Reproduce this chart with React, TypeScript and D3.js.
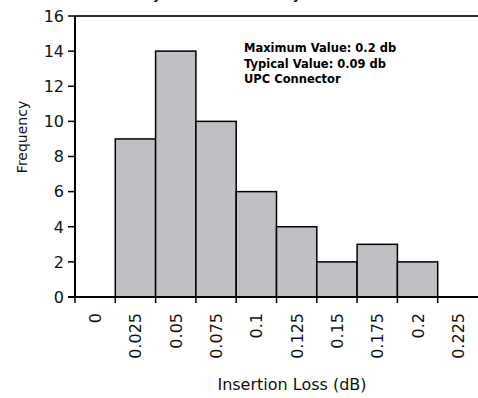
import React from "react";
import * as d3 from "d3";

const categories = ["0", "0.025", "0.05", "0.075", "0.1", "0.125", "0.15", "0.175", "0.2", "0.225"];
const frequencies = [0, 9, 14, 10, 6, 4, 2, 3, 2, 0];
const yTicks = [0, 2, 4, 6, 8, 10, 12, 14, 16];
const notes = ["Maximum Value: 0.2 db", "Typical Value: 0.09 db", "UPC Connector"];
const title = "Summary of Insertion Loss by";

const W = 478;
const H = 398;
const FONT = "'DejaVu Sans', 'Open Sans', sans-serif";

export default function App() {
  const left = 75;
  const right = 478;
  const top = 16;
  const bottom = 297;

  const x = d3.scaleBand<string>().domain(categories).range([left, right]).padding(0);
  const y = d3.scaleLinear().domain([0, 16]).range([bottom, top]);

  return (
    <svg
      width={W}
      height={H}
      style={{ position: "absolute", left: 0, top: 0, background: "#fff" }}
      fontFamily={FONT}
    >
      <text x={96} y={-1} fontSize={12.2} fontWeight="bold" fill="#000">
        {title}
      </text>

      {/* bars */}
      {categories.map((c, i) =>
        frequencies[i] > 0 ? (
          <rect
            key={c}
            x={x(c)!}
            y={y(frequencies[i])}
            width={x.bandwidth()}
            height={y(0) - y(frequencies[i])}
            fill="#bfc0c4"
            stroke="#000"
            strokeWidth={1.5}
          />
        ) : null
      )}

      {/* top frame */}
      <line x1={left} x2={W} y1={top} y2={top} stroke="#333" strokeWidth={2} />
      {/* y axis */}
      <line x1={left} x2={left} y1={top} y2={bottom} stroke="#000" strokeWidth={2} />
      {yTicks.map((t) => (
        <g key={t}>
          <line x1={68} x2={left} y1={y(t)} y2={y(t)} stroke="#000" strokeWidth={1.5} />
          <text x={64} y={y(t)} dy="0.36em" textAnchor="end" fontSize={16} fill="#111">
            {t}
          </text>
        </g>
      ))}
      {/* x axis */}
      <line x1={68} x2={W} y1={bottom} y2={bottom} stroke="#000" strokeWidth={2} />
      {categories.map((c) => (
        <line
          key={"t" + c}
          x1={x(c)!}
          x2={x(c)!}
          y1={bottom}
          y2={bottom + 6}
          stroke="#000"
          strokeWidth={1.5}
        />
      ))}
      {categories.map((c) => {
        const cx = x(c)! + x.bandwidth() / 2;
        return (
          <text
            key={"l" + c}
            transform={`translate(${cx + 6},313) rotate(-90)`}
            textAnchor="end"
            fontSize={16}
            fill="#111"
          >
            {c}
          </text>
        );
      })}

      <text x={292} y={390} textAnchor="middle" fontSize={16} fill="#111">
        Insertion Loss (dB)
      </text>
      <text transform="translate(27,137) rotate(-90)" textAnchor="middle" fontSize={14} fill="#111">
        Frequency
      </text>

      {notes.map((n, i) => (
        <text key={n} x={244} y={52 + i * 15.5} fontSize={11.5} fontWeight="bold" fill="#000">
          {n}
        </text>
      ))}
    </svg>
  );
}
